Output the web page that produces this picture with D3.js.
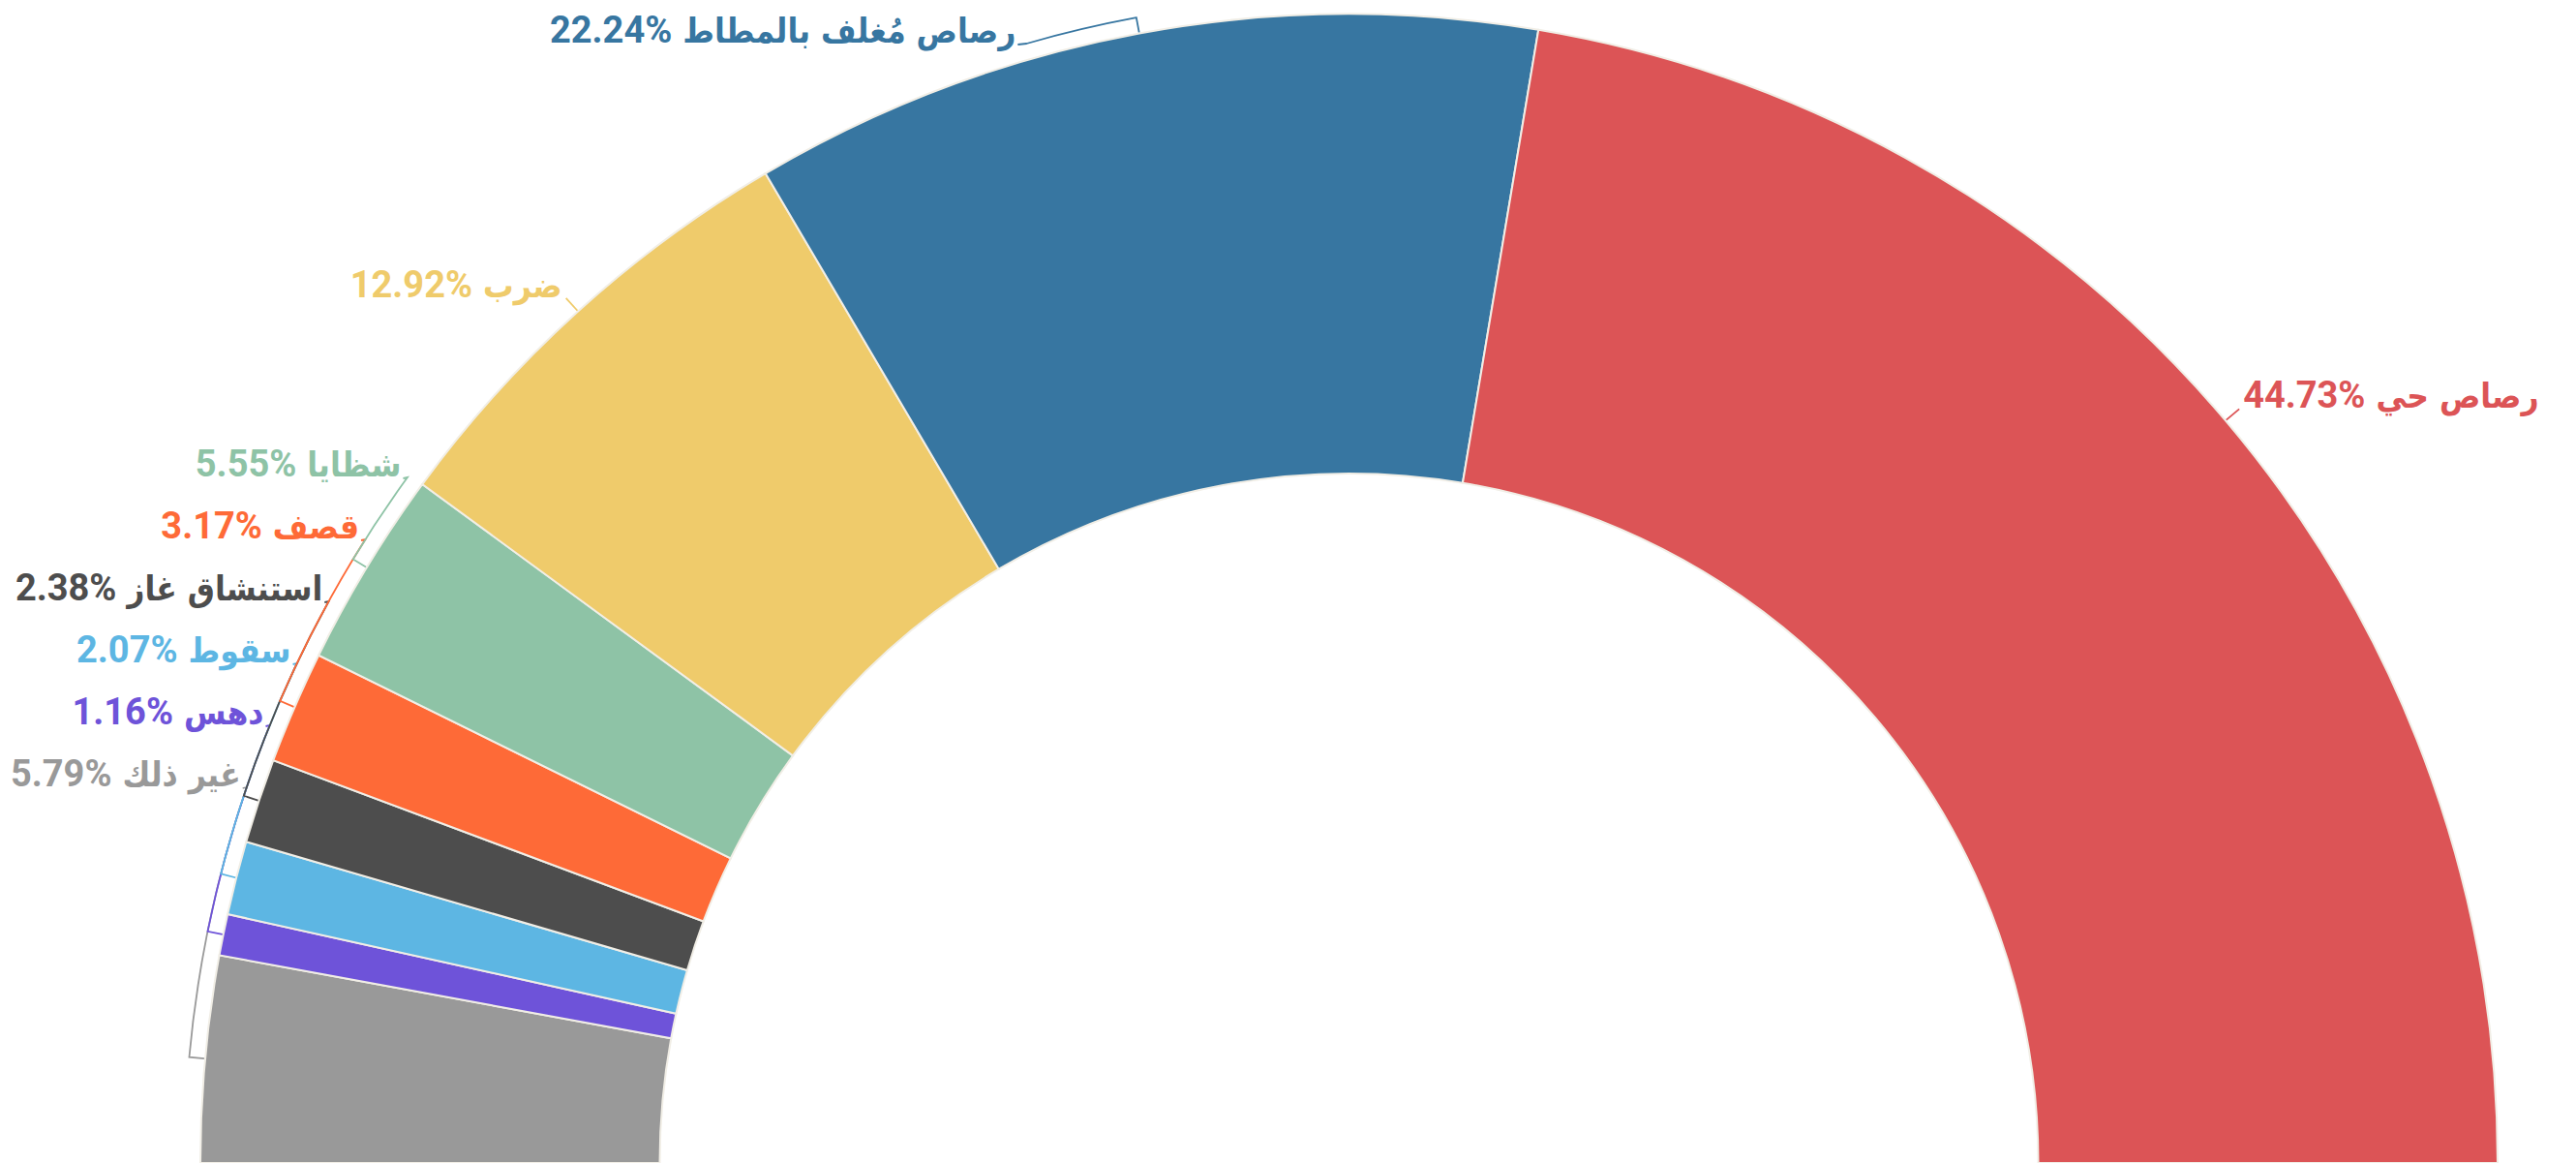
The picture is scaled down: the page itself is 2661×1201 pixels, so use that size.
<!DOCTYPE html>
<html>
<head>
<meta charset="utf-8">
<script src="https://cdn.jsdelivr.net/npm/d3@7"></script>
<style>
  html, body { margin: 0; padding: 0; background: #ffffff; }
  svg { display: block; }
</style>
</head>
<body>
<svg id="chart" width="2661" height="1201"></svg>
<script>
// ---- data ----
const categories = ["غير ذلك", "دهس", "سقوط", "استنشاق غاز", "قصف", "شظايا", "ضرب", "رصاص مُغلف بالمطاط", "رصاص حي"];
const values = [5.79, 1.16, 2.07, 2.38, 3.17, 5.55, 12.92, 22.24, 44.73];
const colors = ["#999999", "#6e53d9", "#5db6e3", "#4d4d4d", "#fe6a37", "#8ec3a6", "#efcb6b", "#3776a1", "#dc5456"];

// ---- layout ----
const W = 2661, H = 1201;
const cx = 1393.5, cy = 1201;
const outerR = 1186.5, innerR = 712;
const labelR = 1205, bracketR = 1203;
const spacing = 64, maxLabelY = 813, minLabelY = 45;

const svg = d3.select("#chart");
const g = svg.append("g");

const data = categories.map((c, i) => ({ name: c, value: values[i], color: colors[i] }));

const pie = d3.pie().value(d => d.value).sort(null)
  .startAngle(-Math.PI / 2).endAngle(Math.PI / 2);
const arcs = pie(data);

const arcGen = d3.arc().innerRadius(innerR).outerRadius(outerR);

g.selectAll("path.slice").data(arcs).join("path")
  .attr("class", "slice")
  .attr("transform", `translate(${cx},${cy})`)
  .attr("d", arcGen)
  .attr("fill", d => d.data.color)
  .attr("stroke", "#f1eee6")
  .attr("stroke-width", 2);

// label layout
const polar = (a, r) => [cx + r * Math.sin(a), cy - r * Math.cos(a)];
arcs.forEach(d => {
  d.mid = (d.startAngle + d.endAngle) / 2;
  d.side = d.mid < 0 ? -1 : 1;
  d.idealY = polar(d.mid, labelR)[1];
});
const left = arcs.filter(d => d.side < 0);
let prev = null;
left.forEach(d => {
  let y = Math.min(d.idealY, maxLabelY);
  if (prev !== null) y = Math.min(y, prev - spacing);
  y = Math.max(y, minLabelY);
  d.ly = y;
  prev = y;
});
arcs.filter(d => d.side > 0).forEach(d => { d.ly = Math.max(d.idealY, minLabelY); });

const fmt = d3.format(".2f");
arcs.forEach(d => {
  const dy = cy - d.ly;
  const px = cx + d.side * Math.sqrt(labelR * labelR - dy * dy);
  d.tx = px + d.side * 4;
  d.displaced = Math.abs(d.ly - d.idealY) > 1;
  const p = d3.path();
  if (!d.displaced) {
    const a0 = polar(d.mid, outerR + 1), a1 = polar(d.mid, labelR);
    p.moveTo(a0[0], a0[1]);
    p.lineTo(a1[0], a1[1]);
  } else {
    const a0 = polar(d.mid, outerR + 1), a1 = polar(d.mid, bracketR);
    p.moveTo(a0[0], a0[1]);
    p.lineTo(a1[0], a1[1]);
    const la = d.side * Math.acos(Math.max(-1, Math.min(1, dy / bracketR)));
    const ccw = la < d.mid;
    p.arc(cx, cy, bracketR, d.mid - Math.PI / 2, la - Math.PI / 2, ccw);
    p.lineTo(d.tx - d.side * 2, d.ly + 1);
  }
  d.conn = p.toString();
});

g.selectAll("path.conn").data(arcs).join("path")
  .attr("class", "conn")
  .attr("d", d => d.conn)
  .attr("fill", "none")
  .attr("stroke", d => d.data.color)
  .attr("stroke-width", 1.8);

const texts = g.selectAll("text.lbl").data(arcs).join("text")
  .attr("class", "lbl")
  .attr("x", d => d.tx)
  .attr("y", d => d.ly - 1)
  .attr("direction", "rtl")
  .attr("text-anchor", d => d.side < 0 ? "start" : "end")
  .attr("fill", d => d.data.color)
  .style("font-weight", "bold");

texts.append("tspan")
  .style("font-family", "'DejaVu Sans Condensed', 'DejaVu Sans', sans-serif")
  .style("font-size", "35px")
  .text(d => d.data.name + " ");
texts.append("tspan")
  .style("font-family", "Roboto, 'DejaVu Sans', sans-serif")
  .style("font-size", "38px")
  .text(d => "\u200E" + fmt(d.data.value) + "%");
</script>
</body>
</html>
